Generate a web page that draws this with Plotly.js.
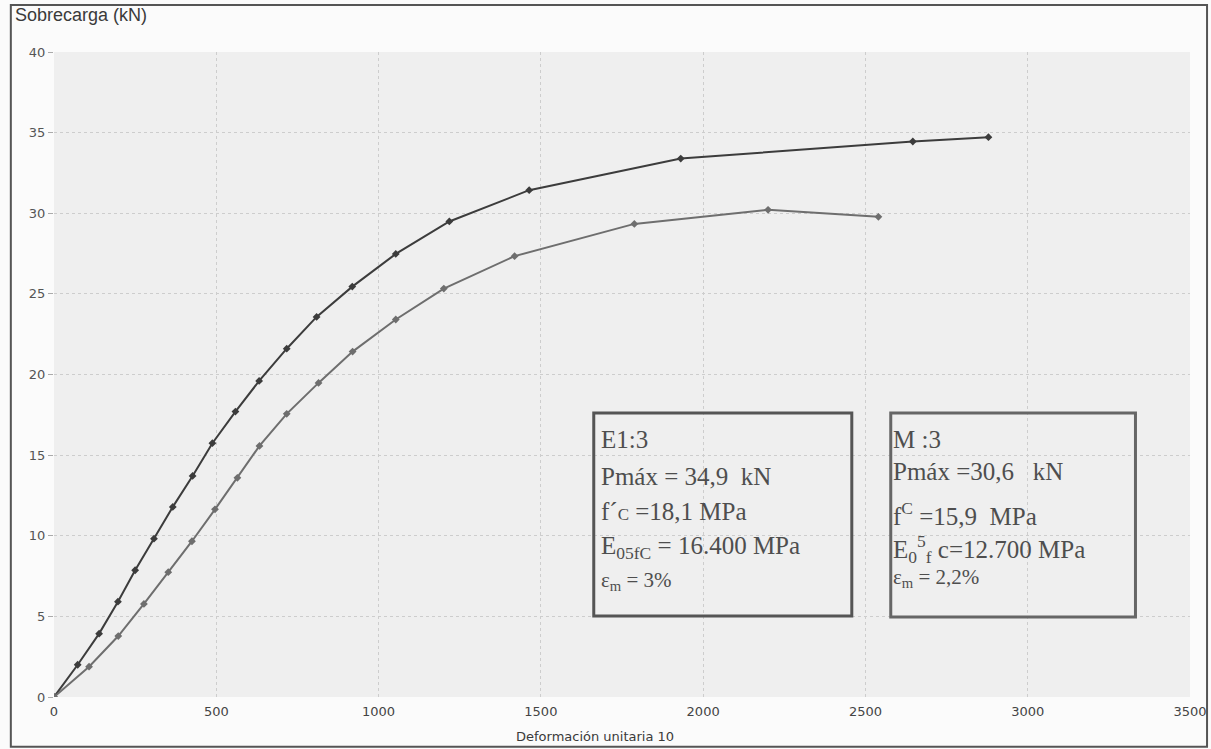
<!DOCTYPE html>
<html>
<head>
<meta charset="utf-8">
<script src="https://cdn.plot.ly/plotly-3.0.1.min.js"></script>
<style>
html,body{margin:0;padding:0;background:#fff;}
#chart{width:1211px;height:749px;}
</style>
</head>
<body>
<div id="chart"></div>
<script>
// Series E1:3 (darker curve)
const strainE = [0, 73, 139, 197, 250, 308, 366, 427, 488, 559, 632, 717, 809, 919, 1053, 1218, 1464, 1931, 2646, 2879];
const loadE   = [0, 2.0, 3.93, 5.91, 7.86, 9.82, 11.79, 13.71, 15.74, 17.70, 19.6, 21.6, 23.57, 25.45, 27.48, 29.49, 31.43, 33.39, 34.45, 34.72];
// Series M:3 (lighter curve)
const strainM = [0, 108, 198, 277, 352, 425, 496, 565, 633, 717, 815, 920, 1053, 1201, 1419, 1788, 2200, 2540];
const loadM   = [0, 1.88, 3.78, 5.77, 7.74, 9.66, 11.64, 13.59, 15.57, 17.56, 19.48, 21.42, 23.41, 25.33, 27.34, 29.34, 30.21, 29.78];

const xTicks = [0, 500, 1000, 1500, 2000, 2500, 3000, 3500];
const yTicks = [0, 5, 10, 15, 20, 25, 30, 35, 40];

const yTitle = "Sobrecarga (kN)";
const xTitle = "Deformación unitaria 10";

const NB = "\u00a0";
const boxE = ["E1:3", "Pmáx = 34,9" + NB + NB + "kN", "f´<span style='font-size:17px'>C</span> =18,1 MPa", "E<sub>05fC</sub> = 16.400" + NB + "MPa", "ε<sub>m</sub> = 3%"];
const boxM = ["M" + NB + ":3", "Pmáx" + NB + "=30,6" + NB + NB + NB + "kN", "f<sup>C</sup> =15,9" + NB + NB + "MPa", "E<sub>0</sub><sup>5</sup><sub>f</sub> c=12.700 MPa", "ε<sub>m</sub> = 2,2%"];

const dark = "#3c3c3c", light = "#6e6e6e";

const traces = [
  {x: strainE, y: loadE, type: "scatter", mode: "lines+markers",
   line: {color: dark, width: 2}, marker: {symbol: "diamond", size: 6, color: dark}, name: "E1:3", hoverinfo: "x+y"},
  {x: strainM, y: loadM, type: "scatter", mode: "lines+markers",
   line: {color: light, width: 2}, marker: {symbol: "diamond", size: 6, color: light}, name: "M:3", hoverinfo: "x+y"}
];

const annFont = {family: "Liberation Serif, DejaVu Serif, serif", size: 25, color: "#4e4e4e"};
const yE = [15.94, 13.65, 11.48, 9.3, 7.2];
const yM = [15.94, 13.96, 11.35, 9.15, 7.4];
const annotations = [];
boxE.forEach((t, i) => annotations.push({xref: "x", yref: "y", x: 1678, y: yE[i], text: t, showarrow: false,
  xanchor: "left", yanchor: "middle", font: Object.assign({}, annFont, i === 4 ? {size: 21} : {})}));
boxM.forEach((t, i) => annotations.push({xref: "x", yref: "y", x: 2580, y: yM[i], text: t, showarrow: false,
  xanchor: "left", yanchor: "middle", font: Object.assign({}, annFont, i === 4 ? {size: 21} : {})}));
annotations.push({xref: "paper", yref: "paper", x: -0.036, y: 1.057, text: yTitle, showarrow: false,
  xanchor: "left", yanchor: "middle", font: {family: "Liberation Sans, Arial, sans-serif", size: 18, color: "#3a3a3a"}});
annotations.push({xref: "paper", yref: "paper", x: 0.476, y: -0.062, text: xTitle, showarrow: false,
  xanchor: "center", yanchor: "middle", font: {family: "DejaVu Sans, sans-serif", size: 13, color: "#3a3a3a"}});

const shapes = [
  {type: "rect", xref: "x", yref: "y", x0: 1663, x1: 2458, y0: 5.02, y1: 17.62, line: {color: "#555", width: 3}},
  {type: "rect", xref: "x", yref: "y", x0: 2578, x1: 3332, y0: 4.96, y1: 17.62, line: {color: "#666", width: 3}},
  {type: "rect", xref: "paper", yref: "paper", x0: -0.038, x1: 1.015, y0: -0.077, y1: 1.073, line: {color: "#555", width: 2}, layer: "below"}
];

const layout = {
  width: 1211, height: 749,
  margin: {l: 54, r: 21, t: 52, b: 52},
  paper_bgcolor: "#fbfbfb",
  plot_bgcolor: "#efefef",
  showlegend: false,
  xaxis: {range: [0, 3500], tickvals: xTicks, ticktext: xTicks.map(String), showgrid: true,
    gridcolor: "#cdcdcd", griddash: "dot", gridwidth: 1, zeroline: false, showline: false,
    ticks: "", ticklabelstandoff: 5,
    tickfont: {family: "DejaVu Sans, sans-serif", size: 13, color: "#444"}},
  yaxis: {range: [0, 40], tickvals: yTicks, ticktext: yTicks.map(String), showgrid: true,
    gridcolor: "#cdcdcd", griddash: "dot", gridwidth: 1, zeroline: false, showline: false,
    ticks: "outside", ticklen: 5, tickcolor: "#aaa",
    tickfont: {family: "DejaVu Sans, sans-serif", size: 13, color: "#555"}},
  annotations: annotations,
  shapes: shapes
};

Plotly.newPlot("chart", traces, layout, {displayModeBar: false, staticPlot: true});
</script>
</body>
</html>
